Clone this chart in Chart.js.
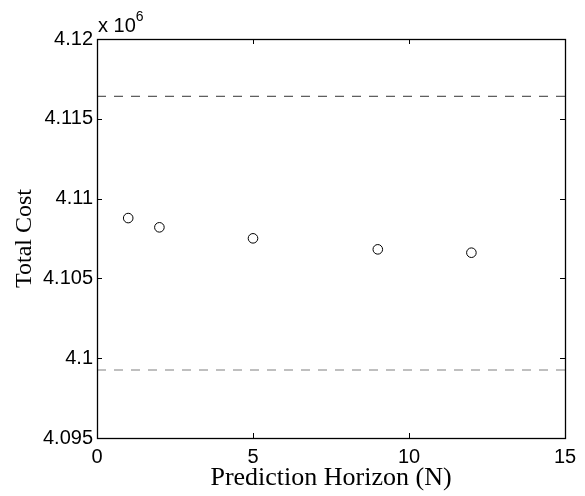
<!DOCTYPE html>
<html lang="en">
<head>
<meta charset="utf-8">
<title>Total Cost vs Prediction Horizon</title>
<script src="https://cdn.jsdelivr.net/npm/chart.js@4.4.1/dist/chart.umd.min.js"></script>
<style>
    html, body { margin: 0; padding: 0; background: #ffffff; }
    #wrap { width: 585px; height: 496px; }
</style>
</head>
<body>
<div id="wrap"><canvas id="costChart" width="585" height="496"></canvas></div>
<script>
    "use strict";

    // Total cost values are in units of 10^6
    const horizons = [1, 2, 5, 9, 12];
    const totalCost = [4.10878, 4.10820, 4.10751, 4.10682, 4.10661];
    const boundX = [0, 15];
    const upperBound = [4.11641, 4.11641];
    const lowerBound = [4.09926, 4.09926];

    const xTicks = [0, 5, 10, 15];
    const yTicks = [4.095, 4.1, 4.105, 4.11, 4.115, 4.12];
    const yTickLabels = ["4.095", "4.1", "4.105", "4.11", "4.115", "4.12"];

    const sansFont = "'Liberation Sans', Arial, Helvetica, sans-serif";
    const serifFont = "'Liberation Serif', 'Times New Roman', serif";

    function toPoints(xs, ys) {
        return xs.map((x, i) => ({ x, y: ys[i] }));
    }

    // box around the plot area plus MATLAB style inward ticks
    const frameAndTicks = {
        id: "frameAndTicks",
        afterDatasetsDraw(chart) {
            const { ctx, chartArea } = chart;
            const xScale = chart.scales.x;
            const yScale = chart.scales.y;
            const len = 5;

            ctx.save();
            ctx.strokeStyle = "#000000";
            ctx.lineWidth = 1;

            ctx.beginPath();
            for (const v of xTicks) {
                const px = Math.round(xScale.getPixelForValue(v)) + 0.5;
                ctx.moveTo(px, chartArea.bottom);
                ctx.lineTo(px, chartArea.bottom - len);
                ctx.moveTo(px, chartArea.top);
                ctx.lineTo(px, chartArea.top + len);
            }
            for (const v of yTicks) {
                const py = Math.round(yScale.getPixelForValue(v)) + 0.5;
                ctx.moveTo(chartArea.left, py);
                ctx.lineTo(chartArea.left + len, py);
                ctx.moveTo(chartArea.right, py);
                ctx.lineTo(chartArea.right - len, py);
            }
            ctx.stroke();

            ctx.lineWidth = 1.3;
            ctx.strokeRect(
                Math.round(chartArea.left) + 0.5,
                Math.round(chartArea.top) + 0.5,
                Math.round(chartArea.right - chartArea.left),
                Math.round(chartArea.bottom - chartArea.top)
            );

            // exponent label above the y axis
            ctx.fillStyle = "#000000";
            ctx.textBaseline = "alphabetic";
            ctx.textAlign = "left";
            ctx.font = "20px " + sansFont;
            const base = "x 10";
            ctx.fillText(base, chartArea.left + 1, chartArea.top - 7);
            const w = ctx.measureText(base).width;
            ctx.font = "14px " + sansFont;
            ctx.fillText("6", chartArea.left + 1 + w, chartArea.top - 18);
            ctx.restore();
        }
    };

    const ctx = document.getElementById("costChart");

    new Chart(ctx, {
        type: "scatter",
        data: {
            datasets: [
                {
                    label: "Total cost",
                    data: toPoints(horizons, totalCost),
                    showLine: false,
                    pointStyle: "circle",
                    pointRadius: 4.8,
                    pointBorderWidth: 1,
                    pointBorderColor: "#000000",
                    pointBackgroundColor: "rgba(255,255,255,0)"
                },
                {
                    label: "Upper",
                    data: toPoints(boundX, upperBound),
                    showLine: true,
                    borderColor: "#333333",
                    borderWidth: 1,
                    borderDash: [9, 8],
                    pointRadius: 0
                },
                {
                    label: "Lower",
                    data: toPoints(boundX, lowerBound),
                    showLine: true,
                    borderColor: "#808080",
                    borderWidth: 1.2,
                    borderDash: [9, 8],
                    pointRadius: 0
                }
            ]
        },
        options: {
            responsive: false,
            animation: false,
            devicePixelRatio: 1,
            layout: {
                padding: { left: 0, right: 20, top: 39, bottom: 0 }
            },
            plugins: {
                legend: { display: false },
                tooltip: { enabled: false }
            },
            scales: {
                x: {
                    type: "linear",
                    min: 0,
                    max: 15,
                    afterBuildTicks(scale) {
                        scale.ticks = xTicks.map(v => ({ value: v }));
                    },
                    afterFit(scale) {
                        scale.height = 58;
                    },
                    grid: { display: false, drawTicks: false },
                    border: { display: false },
                    ticks: {
                        color: "#000000",
                        padding: 7,
                        maxRotation: 0,
                        font: { family: sansFont, size: 20 }
                    },
                    title: {
                        display: true,
                        text: "Prediction Horizon (N)",
                        color: "#000000",
                        padding: { top: 0, bottom: 2 },
                        font: { family: serifFont, size: 26 }
                    }
                },
                y: {
                    type: "linear",
                    min: 4.095,
                    max: 4.12,
                    afterBuildTicks(scale) {
                        scale.ticks = yTicks.map(v => ({ value: v }));
                    },
                    afterFit(scale) {
                        scale.width = 97;
                    },
                    grid: { display: false, drawTicks: false },
                    border: { display: false },
                    ticks: {
                        color: "#000000",
                        padding: 4,
                        font: { family: sansFont, size: 20 },
                        callback(value) {
                            const i = yTicks.findIndex(t => Math.abs(t - value) < 1e-9);
                            return i >= 0 ? yTickLabels[i] : "";
                        }
                    },
                    title: {
                        display: true,
                        text: "Total Cost",
                        color: "#000000",
                        padding: { top: 10, bottom: 0 },
                        font: { family: serifFont, size: 24 }
                    }
                }
            }
        },
        plugins: [frameAndTicks]
    });
</script>
</body>
</html>
